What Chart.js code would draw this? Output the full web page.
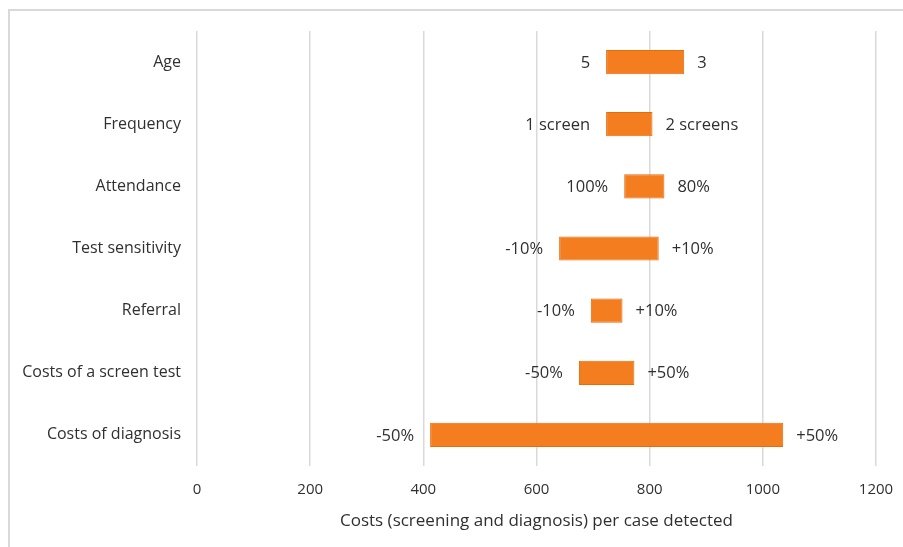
<!DOCTYPE html>
<html>
<head>
<meta charset="utf-8">
<script src="https://cdn.jsdelivr.net/npm/chart.js@4.4.0/dist/chart.umd.min.js"></script>
<style>
  html, body { margin: 0; padding: 0; background: #fff; }
  #wrap { width: 903px; height: 547px; }
</style>
</head>
<body>
<div id="wrap"><canvas id="tornado"></canvas></div>
<script>
'use strict';

// ── Data ─────────────────────────────────────────────────
const categories = ['Age', 'Frequency', 'Attendance', 'Test sensitivity', 'Referral', 'Costs of a screen test', 'Costs of diagnosis'];
const lowValues  = [723, 723, 755, 640, 696, 675, 412];
const highValues = [861, 805, 826, 816, 752, 773, 1036];
const leftLabels  = ['5', '1 screen', '100%', '-10%', '-10%', '-50%', '-50%'];
const rightLabels = ['3', '2 screens', '80%', '+10%', '+10%', '+50%', '+50%'];
const xTicks = [0, 200, 400, 600, 800, 1000, 1200];
const xTitle = 'Costs (screening and diagnosis) per case detected';

const FONT = '"Open Sans", "Liberation Sans", sans-serif';
const TEXT = '#303030';

// ── Frame (top + left border like the source) ────────────
const framePlugin = {
    id: 'frame',
    beforeDraw(chart) {
        const c = chart.ctx;
        c.save();
        c.fillStyle = '#fff';
        c.fillRect(0, 0, chart.width, chart.height);
        c.strokeStyle = '#d9d9d9';
        c.lineWidth = 2;
        c.beginPath();
        c.moveTo(9, chart.height);
        c.lineTo(9, 10);
        c.lineTo(chart.width, 10);
        c.stroke();
        c.restore();
    }
};

// ── End labels at both sides of each bar ─────────────────
const endLabels = {
    id: 'endLabels',
    afterDatasetsDraw(chart) {
        const c = chart.ctx;
        const meta = chart.getDatasetMeta(0);
        c.save();
        c.font = '16.5px ' + FONT;
        c.fillStyle = TEXT;
        c.textBaseline = 'middle';
        meta.data.forEach((bar, i) => {
            const x1 = Math.min(bar.x, bar.base);
            const x2 = Math.max(bar.x, bar.base);
            c.textAlign = 'right';
            c.fillText(leftLabels[i], x1 - 16, bar.y + 1);
            c.textAlign = 'left';
            c.fillText(rightLabels[i], x2 + 13, bar.y + 1);
        });
        c.restore();
    }
};

new Chart(document.getElementById('tornado'), {
    type: 'bar',
    data: {
        labels: categories,
        datasets: [{
            data: lowValues.map((v, i) => [v, highValues[i]]),
            backgroundColor: '#f47d20',
            borderColor: '#e46c0a',
            borderWidth: 1,
            borderSkipped: false,
            categoryPercentage: 1,
            barPercentage: 0.39,
        }]
    },
    options: {
        indexAxis: 'y',
        responsive: true,
        maintainAspectRatio: false,
        animation: false,
        layout: { padding: { top: 31, right: 27, left: 0, bottom: 0 } },
        plugins: {
            legend: { display: false },
            tooltip: { enabled: false },
        },
        scales: {
            x: {
                min: 0,
                max: 1200,
                afterBuildTicks: axis => { axis.ticks = xTicks.map(v => ({ value: v })); },
                grid: { color: '#d9d9d9', lineWidth: 1.5, drawTicks: false },
                border: { display: false },
                ticks: {
                    color: TEXT,
                    font: { family: FONT, size: 15 },
                    padding: 15,
                    callback: v => String(v),
                },
                title: {
                    display: true,
                    text: xTitle,
                    color: TEXT,
                    font: { family: FONT, size: 17 },
                    padding: { top: 6, bottom: 16 },
                },
                afterFit: axis => {
                    axis.height = 81;
                    axis.paddingLeft = 0;
                    axis.paddingRight = 0;
                },
            },
            y: {
                grid: { display: false },
                border: { display: false },
                ticks: { color: TEXT, font: { family: FONT, size: 16 }, padding: 8 },
                afterFit: axis => { axis.width = 197; },
            }
        }
    },
    plugins: [framePlugin, endLabels]
});
</script>
</body>
</html>
